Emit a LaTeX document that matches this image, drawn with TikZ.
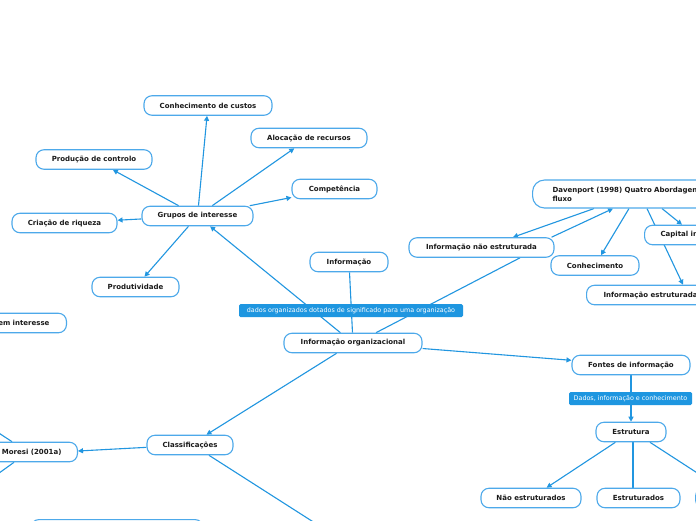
\documentclass[tikz,border=0pt]{standalone}
\usepackage{fontspec}
\setmainfont{DejaVu Sans}
\usetikzlibrary{arrows.meta}
\pgfdeclarelayer{paper}
\pgfdeclarelayer{bg}
\pgfsetlayers{paper,bg,main}
\definecolor{linec}{HTML}{2196E0}
\definecolor{boxc}{HTML}{4DA9EA}
\definecolor{lblc}{HTML}{1E96E0}
\definecolor{txtc}{HTML}{1A1A1A}
\newcommand{\mmnode}{\fontsize{7}{9}\selectfont\bfseries}
\newcommand{\mmlbl}{\fontsize{6.4}{8}\selectfont}
\tikzset{
  box/.style={draw=boxc, line width=1.1pt, fill=white, rounded corners=8pt,
    minimum height=19.5pt, inner xsep=2pt, inner ysep=1pt, font=\mmnode, text=txtc},
  lbl/.style={fill=lblc, text=white, rounded corners=1.5pt, minimum height=13pt,
    inner xsep=2pt, inner ysep=0pt, font=\mmlbl},
  conn/.style={draw=linec, line width=1.1pt},
  arr/.style={conn, -{Triangle[length=5pt,width=5pt]}}
}
\begin{document}
\begin{tikzpicture}[x=1pt,y=-1pt]
\useasboundingbox (0,0) rectangle (696,520);
\clip (0,0) rectangle (696,520);
\begin{pgfonlayer}{paper}
\fill[white] (0,0) rectangle (696,520);
\end{pgfonlayer}

\node[box, minimum width=128pt] (custos) at (208,105.5) {Conhecimento de custos};
\node[box, minimum width=116pt] (aloc) at (309,138) {Alocação de recursos};
\node[box, minimum width=116pt] (prodc) at (94,159.5) {Produção de controlo};
\node[box, minimum width=85pt] (comp) at (334.5,189) {Competência};
\node[box, minimum width=111pt] (grupos) at (197.5,216) {Grupos de interesse};
\node[box, minimum width=105pt] (criacao) at (64.5,223) {Criação de riqueza};
\node[box, minimum width=78pt] (informacao) at (349,262) {Informação};
\node[box, minimum width=87pt] (produtiv) at (135.5,287) {Produtividade};
\node[box, text width=100pt, align=right, inner xsep=17pt, anchor=east] (seminteresse) at (67,323) {em interesse};
\node[box, minimum width=138pt] (infoorg) at (353,343) {Informação organizacional};
\node[lbl, minimum width=224pt] (lbl1) at (351,310.5) {dados organizados dotados de significado para uma organização};
\node[box, minimum width=145pt] (infone) at (481.5,247.5) {Informação não estruturada};
\node[box, minimum width=88pt] (conhec) at (595,265.5) {Conhecimento};
\node[box, anchor=west, text width=200pt, align=left, inner xsep=20pt, minimum height=28pt, rounded corners=12pt] (dav) at (532,194) {Davenport (1998) Quatro Abordagens\\fluxo};
\node[box, anchor=west, inner xsep=16pt] (capital) at (644,235) {Capital intelectual};
\node[box, anchor=west, inner xsep=17pt] (infoest) at (586,295) {Informação estruturada};
\node[box, minimum width=118pt] (fontes) at (631,365) {Fontes de informação};
\node[lbl, minimum width=123pt] (lbl2) at (630.5,398.5) {Dados, informação e conhecimento};
\node[box, minimum width=70pt] (estrutura) at (631,432) {Estrutura};
\node[box, minimum width=100pt] (naoestr) at (531,498) {Não estruturados};
\node[box, minimum width=83pt] (estruturados) at (638.5,498) {Estruturados};
\node[box, anchor=west, minimum width=80pt] (rnode) at (695,498) {};
\node[box, minimum width=86pt] (classif) at (190,445) {Classificações};
\node[box, text width=120pt, align=right, inner xsep=16pt, anchor=east] (moresi) at (78,452) {Moresi (2001a)};
\node[box, anchor=north, minimum width=172pt] (bottomnode) at (117,519) {};

\coordinate (offA) at (-30,414);
\coordinate (offB) at (-30,494);
\coordinate (offC) at (340,539);

\begin{pgfonlayer}{bg}
\draw[arr] (grupos) -- (custos);
\draw[arr] (grupos) -- (aloc);
\draw[arr] (grupos) -- (prodc);
\draw[arr] (grupos) -- (comp);
\draw[arr] (grupos) -- (criacao);
\draw[arr] (grupos) -- (produtiv);
\draw[arr] (infoorg) -- (grupos);
\draw[conn] (informacao) -- (infoorg);
\draw[conn] ([xshift=38.5pt]infone.south) -- ([xshift=23pt]infoorg.north);
\draw[arr] ([xshift=-3pt]infone.north east) -- ([xshift=81pt]dav.south west);
\draw[arr] ([xshift=62pt]dav.south west) -- ([xshift=31.5pt]infone.north);
\draw[arr] ([xshift=97pt]dav.south west) -- ([xshift=6pt]conhec.north);
\draw[arr] ([xshift=130pt]dav.south west) -- ([xshift=38pt]capital.north west);
\draw[arr] ([xshift=115pt]dav.south west) -- ([xshift=97pt]infoest.north west);
\draw[arr] (infoorg) -- (fontes);
\draw[arr] (fontes) -- (estrutura);
\draw[arr] (infoorg) -- (classif);
\draw[arr] (classif) -- ([yshift=1pt]moresi.east);
\draw[conn] ([xshift=-66pt]moresi.north east) -- (offA);
\draw[conn] ([xshift=-64pt]moresi.south east) -- (offB);
\draw[conn] ([xshift=19pt]classif.south) -- (offC);
\draw[arr] (estrutura) -- (naoestr);
\draw[conn] ([xshift=2pt]estrutura.south) -- ([xshift=-5.5pt]estruturados.north);
\draw[arr] ([xshift=19pt]estrutura.south) -- ([xshift=25pt]rnode.north west);
\end{pgfonlayer}
\end{tikzpicture}
\end{document}
